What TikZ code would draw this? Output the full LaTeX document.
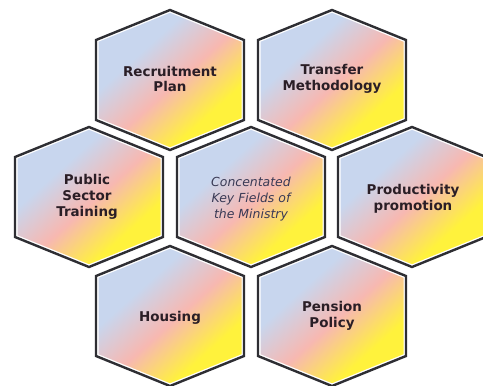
\documentclass[tikz,border=0pt]{standalone}
\usepackage{fontspec}
\newfontfamily\hexfont{DejaVu Sans}
\usepackage{tikz}
\usetikzlibrary{shadings}
\definecolor{hexblue}{HTML}{C8D6EE}
\definecolor{hexpink}{HTML}{F7B8B1}
\definecolor{hexyellow}{HTML}{FFF23C}
\definecolor{hexline}{HTML}{2E2E33}
\definecolor{hextext}{HTML}{2A1E26}
\definecolor{hexitalic}{HTML}{3A3A55}
\pgfdeclarehorizontalshading{hexshade}{100bp}{color(0bp)=(hexblue); color(36bp)=(hexblue); color(52bp)=(hexpink); color(68bp)=(hexyellow); color(100bp)=(hexyellow)}
\tikzset{hexcell/.style={
        shading=hexshade, shading angle=-48,
        draw=white, line width=5bp,
        postaction={draw=hexline, line width=2.4bp}
    },
    hexlabel/.style={
        font=\hexfont\bfseries\fontsize{13.5}{16}\selectfont,
        text=hextext, align=center
    }
}

\begin{document}
\begin{tikzpicture}[x=1bp,y=1bp]
           \useasboundingbox (0,0) rectangle (483,385);
           % top row
           \path[hexcell] (170,305) +(0,70) -- +(74,40) -- +(74,-40) -- +(0,-70) -- +(-74,-40) -- +(-74,40) -- cycle;
           \path[hexcell] (332,305) +(0,70) -- +(74,40) -- +(74,-40) -- +(0,-70) -- +(-74,-40) -- +(-74,40) -- cycle;
           % middle row
           \path[hexcell] (89,188) +(0,70) -- +(74,40) -- +(74,-40) -- +(0,-70) -- +(-74,-40) -- +(-74,40) -- cycle;
           \path[hexcell] (251,188) +(0,70) -- +(74,40) -- +(74,-40) -- +(0,-70) -- +(-74,-40) -- +(-74,40) -- cycle;
           \path[hexcell] (412,188) +(0,70) -- +(74,40) -- +(74,-40) -- +(0,-70) -- +(-74,-40) -- +(-74,40) -- cycle;
           % bottom row
           \path[hexcell] (170,69) +(0,70) -- +(74,40) -- +(74,-40) -- +(0,-70) -- +(-74,-40) -- +(-74,40) -- cycle;
           \path[hexcell] (332,69) +(0,70) -- +(74,40) -- +(74,-40) -- +(0,-70) -- +(-74,-40) -- +(-74,40) -- cycle;
           \node[hexlabel] (recruit) at (170,306) {Recruitment\\Plan};
           \node[hexlabel] (transfer) at (332,306) {Transfer\\Methodology};
           \node[hexlabel] (public) at (87,188) {Public\\Sector\\Training};
           \node[hexlabel,font=\hexfont\itshape\fontsize{12.5}{16}\selectfont,text=hexitalic] (centre) at (251,186) {Concentated\\Key Fields of\\the Ministry};
           \node[hexlabel] (productivity) at (413,186) {Productivity\\promotion};
           \node[hexlabel] (housing) at (170,67) {Housing};
           \node[hexlabel] (pension) at (332,69) {Pension\\Policy};
         \end{tikzpicture}
\end{document}
